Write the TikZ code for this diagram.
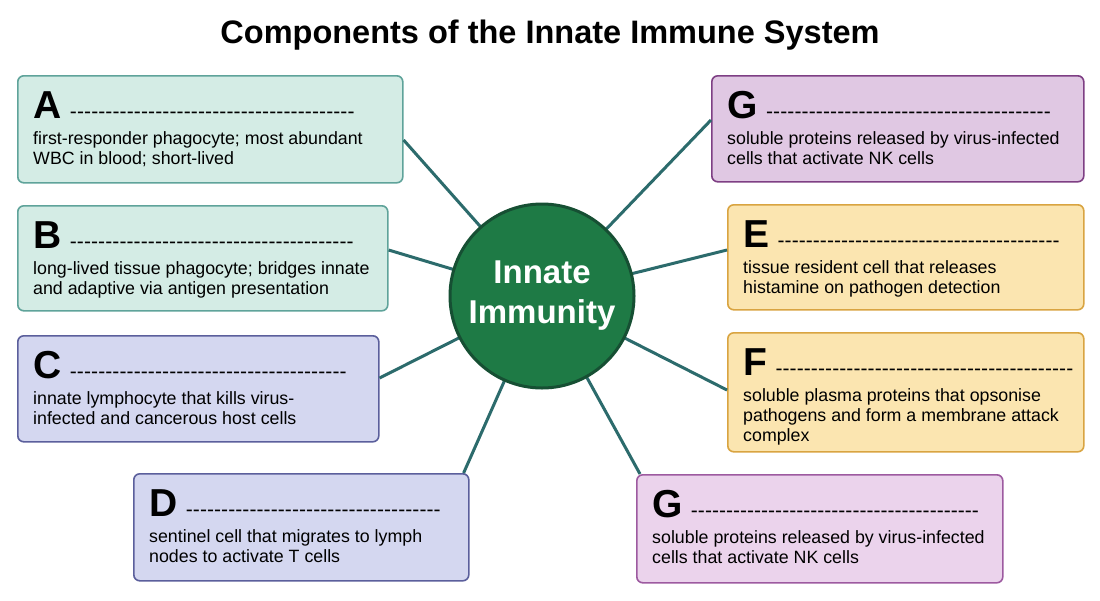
\documentclass[tikz,border=0pt]{standalone}
\usepackage{fontspec}
\setmainfont{Liberation Sans}
\usetikzlibrary{calc}
\definecolor{tealfill}{HTML}{D4ECE5}
\definecolor{tealline}{HTML}{5FA39A}
\definecolor{lavfill}{HTML}{D4D7F0}
\definecolor{lavline}{HTML}{5B5F9C}
\definecolor{purfill}{HTML}{E0C8E3}
\definecolor{purline}{HTML}{7E3F84}
\definecolor{yelfill}{HTML}{FBE5B0}
\definecolor{yelline}{HTML}{D9A441}
\definecolor{pinkfill}{HTML}{EBD3EC}
\definecolor{pinkline}{HTML}{9D5AA0}
\definecolor{hubfill}{HTML}{1E7A45}
\definecolor{hubline}{HTML}{164F33}
\definecolor{spoke}{HTML}{2C6B6C}
\newcommand{\answerbox}[9]{%
  \node[box, #6, minimum width=#4, minimum height=#5] (#1) at (#2,#3) {};
  \node[letter] (#1l) at ($(#1.north west)+(16,43)$) {#7};
  \node[anchor=base west, inner sep=0, font=\fontsize{21}{22}\selectfont] (#1d) at ($(#1l.base east)+(8,0)$) {\hbox to #8pt{\xleaders\hbox{-}\hfill}};
  \node[desc] (#1t) at ($(#1.north west)+(16,56)$) {#9};
}
\begin{document}
\begin{tikzpicture}[x=1pt, y=-1pt,
    box/.style = {draw, rounded corners=6pt, line width=1.6pt, anchor=north west},
    teal/.style = {fill=tealfill, draw=tealline},
    lav/.style = {fill=lavfill, draw=lavline},
    pur/.style = {fill=purfill, draw=purline},
    yel/.style = {fill=yelfill, draw=yelline},
    pink/.style = {fill=pinkfill, draw=pinkline},
    letter/.style = {anchor=base west, inner sep=0, font=\fontsize{39}{40}\selectfont\bfseries},
    desc/.style = {anchor=north west, inner sep=0, align=left, font=\fontsize{17.8}{20}\selectfont},
    link/.style = {draw=spoke, line width=3pt}]
  \useasboundingbox[fill=white] (0,0) rectangle (1100,600);
  % Title
  \node[anchor=base, inner sep=0, font=\fontsize{32.5}{34}\selectfont\bfseries] (title) at (550,43) {Components of the Innate Immune System};
  % Answer boxes
  \answerbox{A}{17}{75}{385pt}{107pt}{teal}{A}{285}{first-responder phagocyte; most abundant\\WBC in blood; short-lived}
  \answerbox{B}{17}{205}{370pt}{105pt}{teal}{B}{284}{long-lived tissue phagocyte; bridges innate\\and adaptive via antigen presentation}
  \answerbox{C}{17}{335}{361pt}{106pt}{lav}{C}{277}{innate lymphocyte that kills virus-\\infected and cancerous host cells}
  \answerbox{D}{133}{473}{335pt}{107pt}{lav}{D}{255}{sentinel cell that migrates to lymph\\nodes to activate T cells}
  \answerbox{G1}{711}{75}{372pt}{106pt}{pur}{G}{285}{soluble proteins released by virus-infected\\cells that activate NK cells}
  \answerbox{E}{727}{204}{356pt}{105pt}{yel}{E}{282}{tissue resident cell that releases\\histamine on pathogen detection}
  \answerbox{F}{727}{332}{356pt}{119pt}{yel}{F}{298}{soluble plasma proteins that opsonise\\pathogens and form a membrane attack\\complex}
  \answerbox{G2}{636}{474}{366pt}{108pt}{pink}{G}{288}{soluble proteins released by virus-infected\\cells that activate NK cells}
  % Spokes
  \coordinate (hubc) at (542,296);
  \path[link] (hubc) -- ($(A.north east)+(0,65)$);
  \path[link] (hubc) -- ($(B.north east)+(0,45)$);
  \path[link] (hubc) -- ($(C.north east)+(0,43)$);
  \path[link] (hubc) -- ($(D.north east)+(-6,0)$);
  \path[link] (hubc) -- ($(G1.north west)+(0,45)$);
  \path[link] (hubc) -- ($(E.north west)+(0,46)$);
  \path[link] (hubc) -- ($(F.north west)+(0,58)$);
  \path[link] (hubc) -- ($(G2.north west)+(4,0)$);
  % Hub
  \node[circle, fill=hubfill, draw=hubline, line width=3pt, minimum size=184pt, text=white, align=center, font=\fontsize{33}{40}\selectfont\bfseries] (hub) at (hubc) {Innate\\Immunity};
\end{tikzpicture}
\end{document}
